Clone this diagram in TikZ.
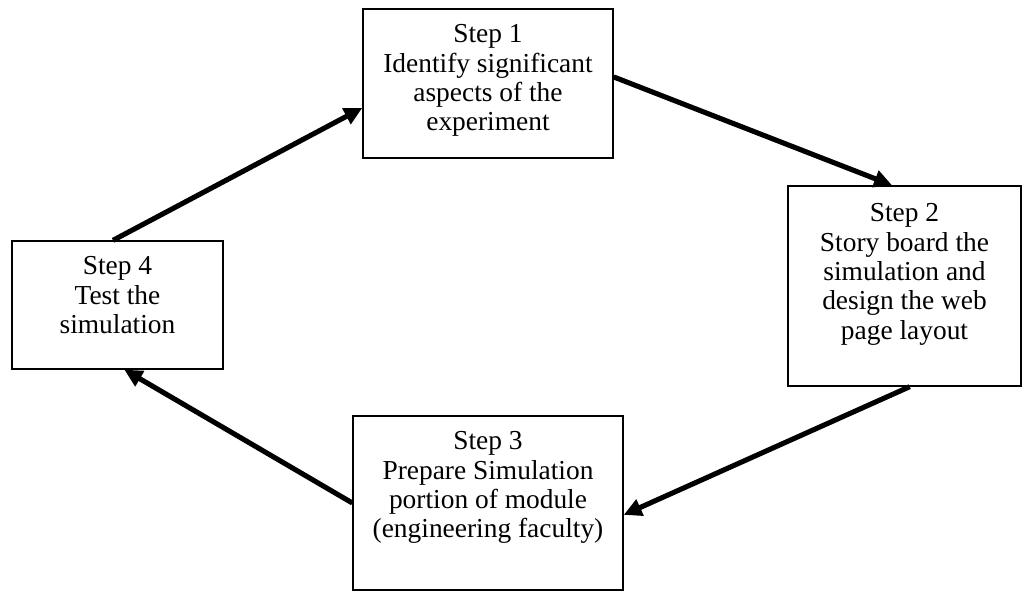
\documentclass[tikz,border=0pt]{standalone}
\usepackage{fontspec}
\setmainfont{Liberation Serif}
\usetikzlibrary{positioning,arrows.meta}

\tikzset{
  stepbox/.style={draw, line width=0.75pt, inner sep=0pt},
  steptext/.style={align=center, inner sep=0pt,
    font=\fontsize{15.6pt}{16.7pt}\selectfont},
  flow/.style={line width=2.9pt, -{Triangle[length=0.36cm,width=0.34cm]}}
}

\begin{document}
\begin{tikzpicture}
  \useasboundingbox (0,0) rectangle (20.48,11.82);
  % the four steps
  \node[stepbox, minimum width=5cm, minimum height=2.98cm] (s1) at (9.76,10.15) {};
  \node[stepbox, minimum width=4.66cm, minimum height=4cm] (s2) at (18.09,6.1) {};
  \node[stepbox, minimum width=5.4cm, minimum height=3.48cm] (s3) at (9.76,1.76) {};
  \node[stepbox, minimum width=4.22cm, minimum height=2.56cm] (s4) at (2.35,5.72) {};
  \node[steptext, below=0.32cm of s1.north] (t1) {Step 1\\Identify significant\\aspects of the\\experiment};
  \node[steptext, below=0.36cm of s2.north] (t2) {Step 2\\Story board the\\simulation and\\design the web\\page layout};
  \node[steptext, below=0.32cm of s3.north] (t3) {Step 3\\Prepare Simulation\\portion of module\\(engineering faculty)};
  \node[steptext, below=0.32cm of s4.north] (t4) {Step 4\\Test the\\simulation};
  % cycle
  \draw[flow] (s4.94) -- (s1.191);
  \draw[flow] (s1.3) -- (s2.97);
  \draw[flow] (s2.273) -- (s3.355);
  \draw[flow] (s3.west) -- (s4.276);
\end{tikzpicture}
\end{document}
